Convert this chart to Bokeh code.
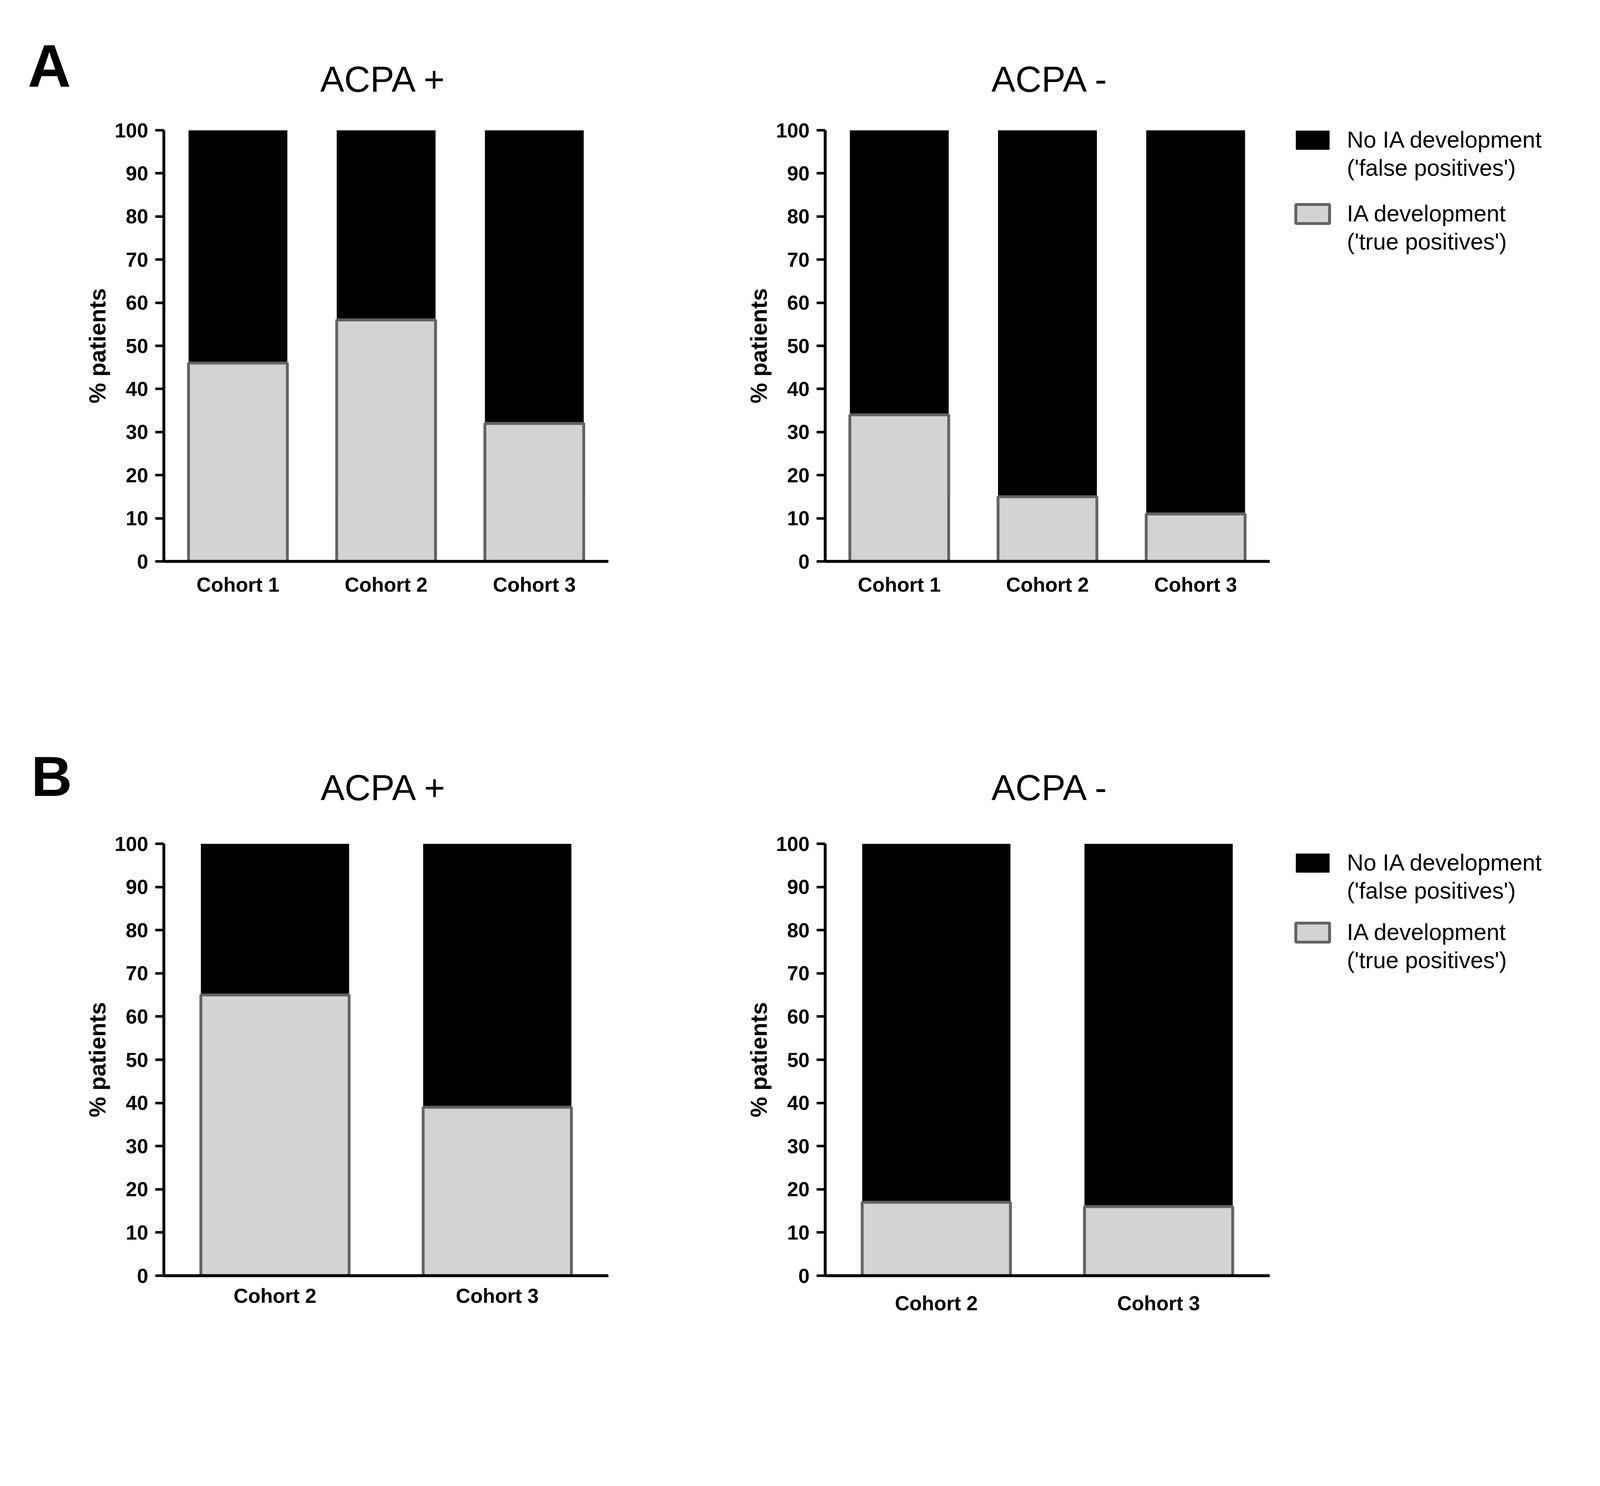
from bokeh.plotting import figure
from bokeh.layouts import column, row
from bokeh.models import (FactorRange, Range1d, FixedTicker, Legend,
                          LegendItem, ColumnDataSource)
from bokeh.core.properties import value
from bokeh.transform import stack
from bokeh.embed import file_html
from bokeh.resources import INLINE

# ---------------- data ----------------
cohorts_a = ["Cohort 1", "Cohort 2", "Cohort 3"]
cohorts_b = ["Cohort 2", "Cohort 3"]

a_pos_true = [46, 56, 32]
a_pos_false = [54, 44, 68]
a_neg_true = [34, 15, 11]
a_neg_false = [66, 85, 89]

b_pos_true = [65, 39]
b_pos_false = [35, 61]
b_neg_true = [17, 16]
b_neg_false = [83, 84]

y_ticks = [0, 10, 20, 30, 40, 50, 60, 70, 80, 90, 100]
y_label = "% patients"
legend_labels = [["No IA development", "('false positives')"],
                 ["IA development", "('true positives')"]]
titles = ["ACPA +", "ACPA -"]
panel_letters = ["A", "B"]

# ---------------- style / layout ----------------
FONT = "Liberation Sans"
GRAY_FILL = "#d3d3d3"
GRAY_LINE = "#636363"
K = 4096 / 4441          # reference pixels -> css pixels
NAN = float("nan")


def px(v):
    return f"{v * K:.1f}px"


def bare_fig(w, h, bt=0, bb=0, pixel_ranges=False):
    xr = Range1d(0, w) if pixel_ranges else Range1d(0, 1)
    yr = Range1d(0, h) if pixel_ranges else Range1d(0, 1)
    p = figure(width=w, height=h, x_range=xr, y_range=yr,
               x_axis_type=None, y_axis_type=None, min_border_left=0,
               min_border_right=0, min_border_top=bt, min_border_bottom=bb,
               output_backend="svg", toolbar_location=None)
    p.outline_line_color = None
    p.xgrid.visible = False
    p.ygrid.visible = False
    return p


def header_fig(w, h, texts, xs, ys_from_top, sizes_ref, styles):
    # ys_from_top: baseline in css px from the top of this strip;
    # shifted by 0.295 em to compensate the renderer's alphabetic baseline
    p = bare_fig(w, h, pixel_ranges=True)
    ys = [h - (y - 0.295 * s * K) for y, s in zip(ys_from_top, sizes_ref)]
    src = ColumnDataSource(dict(x=xs, y=ys, text=texts,
                                size=[px(s) for s in sizes_ref], style=styles))
    p.text(x="x", y="y", text="text", source=src, text_font=value(FONT),
           text_font_size="size", text_font_style="style", text_align="left",
           text_baseline="alphabetic", text_color="black")
    return p


def legend_fig(w, h, bb, y1, y2):
    p = bare_fig(w, h, 0, bb)
    r_black = p.vbar(x=[0.5], bottom=[NAN], top=[NAN], width=0.5,
                     fill_color="black", line_color=None)
    r_gray = p.vbar(x=[0.5], bottom=[NAN], top=[NAN], width=0.5,
                    fill_color=GRAY_FILL, line_color=GRAY_LINE,
                    line_width=8 * K)
    r_blank = p.vbar(x=[0.5], bottom=[NAN], top=[NAN], width=0.5,
                     fill_alpha=0, line_alpha=0)
    for (lab1, lab2), rend, yloc in ((legend_labels[0], r_black, y1),
                                     (legend_labels[1], r_gray, y2)):
        lg = Legend(items=[LegendItem(label=lab1, renderers=[rend]),
                           LegendItem(label=lab2, renderers=[r_blank])],
                    location=(6, yloc), glyph_width=round(94 * K / 0.8),
                    glyph_height=round(53 * K / 0.8),
                    label_standoff=round(37 * K), spacing=0, padding=0,
                    margin=0, label_height=round(78 * K),
                    border_line_color=None, background_fill_alpha=0,
                    label_text_font=FONT, label_text_font_size=px(64),
                    label_text_color="black")
        p.add_layout(lg)
    return p


def make_panel(cohorts, true_vals, false_vals, bl, fw, br, bt, fh, bb, x_std):
    src = ColumnDataSource(dict(cohort=cohorts, true=true_vals, false=false_vals))
    p = figure(x_range=FactorRange(*cohorts), y_range=Range1d(0, 100),
               width=bl + fw + br, height=bt + fh + bb,
               min_border_left=bl, min_border_right=br,
               min_border_top=bt, min_border_bottom=bb,
               output_backend="svg", toolbar_location=None)
    p.outline_line_color = None
    p.xgrid.visible = False
    p.ygrid.visible = False

    p.vbar(x="cohort", bottom=stack("true"), top=stack("true", "false"),
           width=0.667, source=src, fill_color="black", line_color=None)
    p.vbar(x="cohort", bottom=0, top=stack("true"), width=0.667,
           source=src, fill_color=GRAY_FILL, line_color=GRAY_LINE,
           line_width=8 * K)

    xa = p.xaxis[0]
    xa.axis_line_width = 8 * K
    xa.axis_line_color = "black"
    xa.major_tick_line_color = None
    xa.minor_tick_line_color = None
    xa.major_label_text_font = FONT
    xa.major_label_text_font_style = "bold"
    xa.major_label_text_font_size = px(56)
    xa.major_label_text_color = "black"
    xa.major_label_standoff = x_std

    ya = p.yaxis[0]
    ya.ticker = FixedTicker(ticks=y_ticks)
    ya.axis_line_width = 8 * K
    ya.axis_line_color = "black"
    ya.major_tick_out = round(24 * K)
    ya.major_tick_in = 0
    ya.major_tick_line_width = 7 * K
    ya.major_tick_line_color = "black"
    ya.minor_tick_line_color = None
    ya.major_label_text_font = FONT
    ya.major_label_text_font_style = "bold"
    ya.major_label_text_font_size = px(56)
    ya.major_label_text_color = "black"
    ya.major_label_standoff = round(20 * K)
    ya.axis_label = y_label
    ya.axis_label_text_font = FONT
    ya.axis_label_text_font_style = "bold"
    ya.axis_label_text_font_size = px(64)
    ya.axis_label_text_color = "black"
    ya.axis_label_standoff = 7
    return p


TOTAL_W = 4050
# horizontal geometry (css px)
AL_BL, AL_FW, AL_BR = 419, 1138, 92
AR_BL, AR_FW, AR_BR = 463, 1138, 50
LEG_W = TOTAL_W - (AL_BL + AL_FW + AL_BR + AR_BL + AR_FW + AR_BR)

# vertical geometry (css px)
HA_H = 269
R1_T, R1_F, R1_B = 64, 1104, 169
HB_H = 498
R2_T, R2_F, R2_B = 56, 1106, 222

hdr_a = header_fig(TOTAL_W, HA_H,
                   [panel_letters[0], titles[0], titles[1]],
                   [70.4, 819.3, 2537.6], [213.4, 230.0, 230.0],
                   [166, 100, 100], ["bold", "normal", "normal"])
a_left = make_panel(cohorts_a, a_pos_true, a_pos_false, AL_BL, AL_FW, AL_BR,
                    R1_T, R1_F, R1_B, 24)
a_right = make_panel(cohorts_a, a_neg_true, a_neg_false, AR_BL, AR_FW, AR_BR,
                     R1_T, R1_F, R1_B, 24)
leg_a = legend_fig(LEG_W, R1_T + R1_F + R1_B, R1_B, 971, 782)

hdr_b = header_fig(TOTAL_W, HB_H,
                   [panel_letters[1], titles[0], titles[1]],
                   [79.6, 820.2, 2537.6], [424.3, 438.2, 438.2],
                   [157, 100, 100], ["bold", "normal", "normal"])
b_left = make_panel(cohorts_b, b_pos_true, b_pos_false, AL_BL, AL_FW, AL_BR,
                    R2_T, R2_F, R2_B, 16)
b_right = make_panel(cohorts_b, b_neg_true, b_neg_false, AR_BL, AR_FW, AR_BR,
                     R2_T, R2_F, R2_B, 35)
leg_b = legend_fig(LEG_W, R2_T + R2_F + R2_B, R2_B, 949, 771)

layout = column(hdr_a, row(a_left, a_right, column(leg_a)),
                hdr_b, row(b_left, b_right, column(leg_b)))

open("out.html", "w").write(file_html(layout, INLINE))
